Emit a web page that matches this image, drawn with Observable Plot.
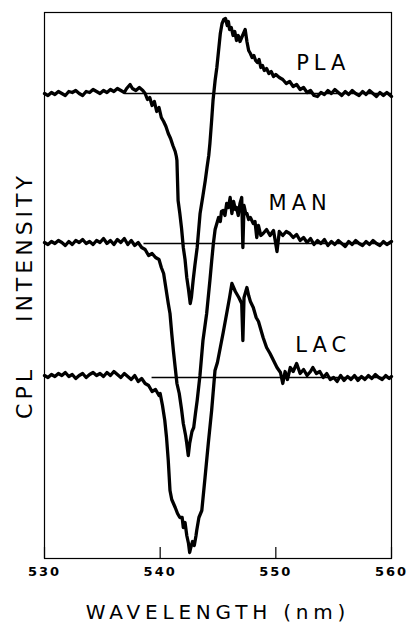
<!DOCTYPE html>
<html>
<head>
<meta charset="utf-8">
<script src="https://cdn.jsdelivr.net/npm/d3@7"></script>
<script src="https://cdn.jsdelivr.net/npm/@observablehq/plot@0.6"></script>
<style>
  html, body { margin: 0; padding: 0; background: #fff; }
  #chart { width: 409px; height: 622px; }
</style>
</head>
<body>
<div id="chart"></div>
<script>
// ---- Data (CPL intensity in arbitrary units relative to each trace's baseline) ----
const seriesNames = ["PLA", "MAN", "LAC"];
const baselineOffsets = [465, 315, 181];      // vertical offset of each trace (arbitrary units)
const baselineStarts = [537.0, 538.6, 539.3]; // wavelength where each zero line starts (nm)
const xTicks = [530, 540, 550, 560];
const xLabel = "WAVELENGTH (nm)";
const yLabel = "CPL\u00a0\u00a0\u00a0\u00a0INTENSITY";

const plaX = [530.0,530.3,530.6,530.9,531.2,531.5,531.8,532.1,532.4,532.7,533.0,533.3,533.6,533.9,534.2,534.5,534.8,535.1,535.4,535.7,536.0,536.3,536.6,536.9,537.1,537.4,537.6,537.9,538.2,538.5,538.7,538.9,539.1,539.3,539.5,539.7,539.9,540.1,540.3,540.5,540.7,540.9,541.1,541.3,541.4,541.45,541.55,541.7,541.85,542.0,542.15,542.3,542.45,542.6,542.7,542.85,543.0,543.2,543.45,543.7,543.9,544.05,544.2,544.3,544.45,544.57,544.75,544.9,545.05,545.2,545.35,545.5,545.65,545.8,545.9,546.0,546.15,546.3,546.45,546.6,546.75,546.9,547.05,547.2,547.35,547.5,547.65,547.8,547.95,548.1,548.25,548.4,548.55,548.7,548.85,549.0,549.2,549.4,549.6,549.8,550.0,550.3,550.6,550.9,551.2,551.5,551.8,552.1,552.4,552.7,553.0,553.3,553.6,553.9,554.2,554.5,554.8,555.1,555.4,555.7,556.0,556.3,556.6,556.9,557.2,557.5,557.8,558.1,558.4,558.7,559.0,559.3,559.6,560.0];
const plaY = [0,-2,1,-1,2,0,-2,2,1,3,0,-2,2,1,4,2,0,3,1,4,2,5,3,1,5,9,5,3,6,3,0,-6,-4,-12,-8,-18,-14,-24,-28,-33,-40,-45,-52,-58,-63,-67,-107,-120,-135,-154,-166,-184,-196,-210,-204,-187,-172,-154,-120,-102,-87,-74,-62,-50,-27,-7,13,26,43,60,70,74,75,68,72,64,66,58,62,53,58,52,56,60,64,52,43,40,36,38,33,31,34,26,28,23,25,20,22,17,19,16,14,10,12,7,9,4,6,1,3,-2,-3,1,-1,3,0,4,1,-2,2,-1,3,0,-2,2,-1,3,0,-3,1,-2,1,-3];

const manX = [530.0,530.3,530.6,530.9,531.2,531.5,531.8,532.1,532.4,532.7,533.0,533.3,533.6,533.9,534.2,534.5,534.8,535.1,535.4,535.7,536.0,536.3,536.6,536.9,537.2,537.5,537.8,538.1,538.4,538.7,539.0,539.3,539.6,539.9,540.1,540.3,540.5,540.7,540.85,541.0,541.15,541.3,541.45,541.65,541.85,542.0,542.1,542.2,542.3,542.43,542.55,542.65,542.75,542.9,543.05,543.2,543.44,543.7,544.02,544.3,544.45,544.6,544.75,544.9,545.05,545.2,545.3,545.45,545.6,545.75,545.9,546.05,546.2,546.35,546.5,546.6,546.75,546.9,547.05,547.15,547.25,547.4,547.5,547.65,547.8,548.05,548.2,548.35,548.5,548.7,548.9,549.2,549.5,549.8,550.1,550.3,550.6,550.9,551.2,551.5,551.8,552.1,552.4,552.7,553.0,553.3,553.6,553.9,554.2,554.5,554.8,555.1,555.4,555.7,556.0,556.3,556.6,556.9,557.2,557.5,557.8,558.1,558.4,558.7,559.0,559.3,559.6,560.0];
const manY = [1,-1,2,0,3,1,-2,2,-1,3,1,4,0,2,-1,3,1,5,0,3,-1,4,1,5,-1,3,-2,1,-4,-6,-12,-10,-14,-16,-24,-30,-45,-60,-70,-90,-108,-124,-140,-150,-166,-180,-186,-192,-200,-212,-200,-194,-188,-184,-170,-157,-132,-97,-70,-37,-18,0,14,20,26,22,32,33,28,40,36,46,30,42,34,36,28,40,46,-4,38,30,30,24,26,20,22,6,18,8,10,14,8,13,-8,12,8,12,10,6,9,3,6,1,5,-1,3,0,4,-2,2,-1,3,0,-3,2,-1,3,0,-2,2,-1,3,0,-2,2,-1,2];

const lacX = [530.0,530.3,530.6,530.9,531.2,531.5,531.8,532.1,532.4,532.7,533.0,533.3,533.6,533.9,534.2,534.5,534.8,535.1,535.4,535.7,536.0,536.3,536.6,536.9,537.2,537.5,537.8,538.1,538.4,538.7,539.0,539.3,539.6,539.9,540.0,540.2,540.4,540.55,540.7,540.85,541.0,541.3,541.5,541.7,541.9,542.0,542.15,542.3,542.45,542.55,542.65,542.8,542.95,543.1,543.16,543.35,543.6,543.88,544.16,544.45,544.74,544.95,545.2,545.45,545.75,546.0,546.2,546.35,546.5,546.6,546.8,547.05,547.15,547.25,547.4,547.5,547.65,547.8,548.05,548.3,548.5,548.65,548.9,549.2,549.5,549.8,550.1,550.4,550.6,550.8,551.0,551.25,551.5,551.8,552.1,552.4,552.7,553.0,553.2,553.5,553.8,554.1,554.4,554.7,555.0,555.3,555.6,555.9,556.2,556.5,556.8,557.1,557.4,557.7,558.0,558.3,558.6,558.9,559.2,559.5,559.8,560.0];
const lacY = [2,0,3,1,4,2,5,1,3,-1,2,4,0,3,5,2,4,1,5,2,6,3,0,4,1,-2,2,-4,-1,-6,-8,-14,-12,-18,-16,-28,-43,-60,-83,-113,-122,-130,-136,-140,-140,-150,-145,-158,-166,-175,-170,-164,-168,-158,-153,-140,-133,-100,-66,-33,7,15,30,45,64,80,94,90,86,84,80,74,37,80,86,90,82,76,70,60,56,50,40,30,24,17,10,5,-6,6,-2,10,6,14,4,8,2,6,10,4,6,0,4,-2,0,-4,2,-3,1,-2,2,-3,1,-2,2,-1,3,0,-2,2,-1,1];

// ---- Build tables ----
const xs = [plaX, manX, lacX];
const ys = [plaY, manY, lacY];
const rows = [];
seriesNames.forEach((name, i) => {
  xs[i].forEach((x, j) => rows.push({series: name, x, y: baselineOffsets[i] + ys[i][j]}));
});
const zeroLines = seriesNames.map((name, i) => ({series: name, x1: baselineStarts[i], x2: 560, y: baselineOffsets[i]}));
const labelRows = [
  {text: "PLA", x: 554.1, y: baselineOffsets[0] + 30},
  {text: "MAN", x: 552.1, y: baselineOffsets[1] + 40},
  {text: "LAC", x: 554.1, y: baselineOffsets[2] + 32}
];

const font = "DejaVu Sans, sans-serif";
const chart = Plot.plot({
  width: 409,
  height: 622,
  marginLeft: 44,
  marginRight: 18,
  marginTop: 12,
  marginBottom: 64,
  style: {fontFamily: font, color: "black", background: "white"},
  x: {domain: [530, 560]},
  y: {domain: [0, 546], axis: null},
  marks: [
    Plot.frame({stroke: "black", strokeWidth: 1.2}),
    Plot.ruleY(zeroLines, {y: "y", x1: "x1", x2: "x2", stroke: "black", strokeWidth: 1.6}),
    Plot.line(rows, {x: "x", y: "y", z: "series", stroke: "black", strokeWidth: 3.3, strokeLinejoin: "round"}),
    Plot.axisX({ticks: xTicks, tickSize: -11, tickFormat: () => "", label: null, strokeWidth: 1.2}),
    Plot.axisX({ticks: xTicks, tickSize: 0, tickPadding: 8, label: null, fontSize: 13, fontWeight: "bold", tickFormat: d => String(d)}),
    Plot.text(labelRows, {x: "x", y: "y", text: "text", fontSize: 21, fill: "black"}),
    Plot.text([xLabel], {frameAnchor: "bottom", textAnchor: "middle", dy: 60, text: d => d, fontSize: 20, fill: "black"}),
    Plot.text([yLabel], {frameAnchor: "left", textAnchor: "middle", dx: -20, dy: 10, rotate: -90, text: d => d, fontSize: 22, fill: "black"})
  ]
});
document.getElementById("chart").appendChild(chart);

// letter spacing to mimic the stencil lettering
d3.select(chart).selectAll("text").each(function() {
  const t = this.textContent;
  let ls = "2px";
  if (t === xLabel) ls = "4.8px";
  else if (t === yLabel) ls = "4px";
  else if (seriesNames.includes(t)) ls = "5px";
  d3.select(this).style("letter-spacing", ls);
});
</script>
</body>
</html>
